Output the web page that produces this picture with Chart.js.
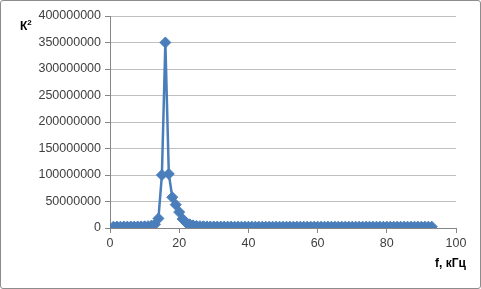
<!DOCTYPE html>
<html><head><meta charset="utf-8">
<script src="https://cdn.jsdelivr.net/npm/chart.js@4"></script>
<style>
html,body{margin:0;padding:0;background:#fff;}
#wrap{position:relative;width:481px;height:289px;box-sizing:border-box;border:1px solid #8c8c8c;border-radius:3px;overflow:hidden;}
canvas{position:absolute;left:0;top:0;}
.lbl{position:absolute;font-family:"Liberation Sans",Arial,sans-serif;font-weight:bold;font-size:12px;color:#000;white-space:nowrap;}
</style></head>
<body>
<div id="wrap">
<canvas id="c" width="479" height="287"></canvas>
<div class="lbl" style="left:19px;top:17px;">К<sup style="font-size:8px;">2</sup></div>
<div class="lbl" style="left:434px;top:255px;">f, кГц</div>
</div>
<script>
const freqKHz = [1,2,3,4,5,6,7,8,9,10,11,12,13,14,15,16,17,18,19,20,21,22,23,24,25,26,27,28,29,30,31,32,33,34,35,36,37,38,39,40,41,42,43,44,45,46,47,48,49,50,51,52,53,54,55,56,57,58,59,60,61,62,63,64,65,66,67,68,69,70,71,72,73,74,75,76,77,78,79,80,81,82,83,84,85,86,87,88,89,90,91,92,93];
const k2Values = [2500000,2600000,2500000,2700000,2600000,2800000,2700000,2900000,3000000,3200000,3500000,4500000,7000000,18000000,100000000,350000000,102000000,58000000,44000000,30000000,17000000,10000000,7000000,5000000,4000000,3500000,3200000,3000000,2900000,2800000,2700000,2700000,2600000,2600000,2600000,2500000,2500000,2500000,2500000,2500000,2500000,2500000,2500000,2500000,2500000,2500000,2500000,2500000,2500000,2500000,2500000,2500000,2500000,2500000,2500000,2500000,2500000,2500000,2500000,2500000,2500000,2500000,2500000,2500000,2500000,2500000,2500000,2500000,2500000,2500000,2500000,2500000,2500000,2500000,2500000,2500000,2500000,2500000,2500000,2500000,2500000,2500000,2500000,2500000,2500000,2500000,2500000,2500000,2500000,2500000,2500000,2500000,2500000];
const xTicks = [0,20,40,60,80,100];
const yTicks = [0,50000000,100000000,150000000,200000000,250000000,300000000,350000000,400000000];

const pts = freqKHz.map((f,i)=>({x:f,y:k2Values[i]}));
const font = {family:'"Liberation Sans", Arial, sans-serif', size:12.5};

new Chart(document.getElementById('c'),{
  type:'scatter',
  data:{datasets:[{
    data:pts, showLine:true,
    borderColor:'#4a7ebb', backgroundColor:'#4a7ebb',
    borderWidth:2.5, pointStyle:'rectRot', pointRadius:5.5, pointHoverRadius:5.5,
    pointBorderWidth:1
  }]},
  options:{
    responsive:false, animation:false,
    layout:{padding:{left:0,right:24,top:15,bottom:0}},
    plugins:{legend:{display:false},tooltip:{enabled:false}},
    scales:{
      x:{type:'linear',min:0,max:100,
        afterBuildTicks:s=>{s.ticks=xTicks.map(v=>({value:v}));},
        afterFit:s=>{s.height=60;},
        grid:{drawOnChartArea:false,drawTicks:true,tickLength:5,color:'#868686'},
        border:{color:'#868686'},
        ticks:{font:font,color:'#404040',padding:3,maxRotation:0}
      },
      y:{type:'linear',min:0,max:400000000,
        afterBuildTicks:s=>{s.ticks=yTicks.map(v=>({value:v}));},
        afterFit:s=>{s.width=109;},
        grid:{color:'#c0c0c0',tickLength:5,tickColor:'#868686'},
        border:{color:'#868686'},
        ticks:{font:font,color:'#404040',padding:4,callback:v=>String(v)}
      }
    }
  }
});
</script>
</body></html>
